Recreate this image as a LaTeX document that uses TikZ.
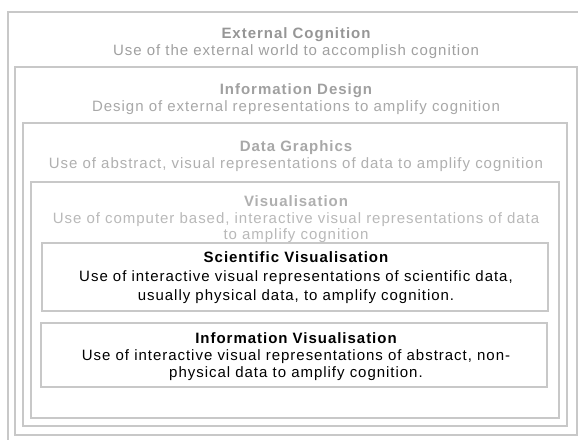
\documentclass[tikz,border=0pt]{standalone}
\usepackage{fontspec}
\setmainfont{Liberation Sans}[LetterSpace=6.5]
\definecolor{framegray}{RGB}{200,200,200}
\definecolor{gA}{RGB}{150,150,150}
\definecolor{gAs}{RGB}{160,160,160}
\definecolor{gB}{RGB}{160,160,160}
\definecolor{gBs}{RGB}{168,168,168}
\definecolor{gC}{RGB}{168,168,168}
\definecolor{gCs}{RGB}{176,176,176}
\definecolor{gD}{RGB}{175,175,175}
\definecolor{gDs}{RGB}{185,185,185}
\tikzset{
  frame/.style={draw=framegray, line width=1.2pt},
  ln/.style={anchor=base, inner sep=0pt, font=\fontsize{15}{17}\selectfont},
  ttl/.style={ln, font=\fontsize{15}{17}\selectfont\bfseries},
}
\begin{document}
\begin{tikzpicture}[x=1pt,y=-1pt]
\useasboundingbox (0,0) rectangle (578,439);
\clip (0,0) rectangle (578,439);
\fill[white] (0,0) rectangle (578,439);
% frames
\draw[frame] (8,12) rectangle (600,460);
\draw[frame] (15,67) rectangle (577,435);
\draw[frame] (23,123) rectangle (567,426);
\draw[frame] (31,182) rectangle (559,418);
\draw[frame] (42,243) rectangle (548,311);
\draw[frame] (41,323) rectangle (547,387);
% External Cognition
\node[ttl, text=gA] (ec1) at (296,38) {External Cognition};
\node[ln, text=gAs] (ec2) at (296,55) {Use of the external world to accomplish cognition};
% Information Design
\node[ttl, text=gB] (id1) at (296,94) {Information Design};
\node[ln, text=gBs] (id2) at (296,111) {Design of external representations to amplify cognition};
% Data Graphics
\node[ttl, text=gC] (dg1) at (296,151) {Data Graphics};
\node[ln, text=gCs] (dg2) at (296,168) {Use of abstract, visual representations of data to amplify cognition};
% Visualisation
\node[ttl, text=gD] (vi1) at (296,206) {Visualisation};
\node[ln, text=gDs] (vi2) at (296,223) {Use of computer based, interactive visual representations of data};
\node[ln, text=gDs] (vi3) at (296,239) {to amplify cognition};
% Scientific Visualisation
\node[ttl, text=black] (sv1) at (296,262) {Scientific Visualisation};
\node[ln, text=black] (sv2) at (296,281) {Use of interactive visual representations of scientific data,};
\node[ln, text=black] (sv3) at (296,300) {usually physical data, to amplify cognition.};
% Information Visualisation
\node[ttl, text=black] (iv1) at (296,343) {Information Visualisation};
\node[ln, text=black] (iv2) at (296,360) {Use of interactive visual representations of abstract, non-};
\node[ln, text=black] (iv3) at (296,377) {physical data to amplify cognition.};
\end{tikzpicture}
\end{document}
